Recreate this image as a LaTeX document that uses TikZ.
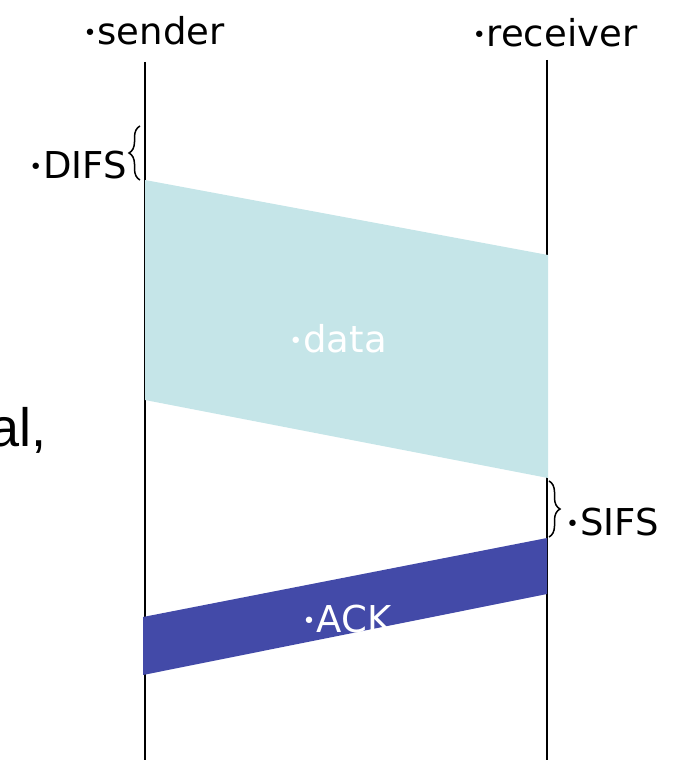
\documentclass[tikz,border=0pt]{standalone}
\usepackage{fontspec}
\setmainfont{DejaVu Sans}
\newfontfamily\arialfont{Liberation Sans}
\usetikzlibrary{decorations.pathreplacing}
\definecolor{datacol}{HTML}{C5E5E8}
\definecolor{ackcol}{HTML}{434AA8}
\newcommand\smallbul{{\fontsize{22}{22}\selectfont\raisebox{4pt}{•}}\kern1pt}
\tikzset{
  lbl/.style={inner sep=0pt, font=\fontsize{37}{40}\selectfont},
  wlbl/.style={lbl, text=white},
  lifeline/.style={line width=1.5pt, black},
  bracestyle/.style={line width=1.5pt, decorate, decoration={brace, amplitude=11pt}}
}
\begin{document}
\begin{tikzpicture}[x=1pt,y=-1pt]
\useasboundingbox (0,0) rectangle (690,760);
% lifelines
\coordinate (sTop) at (145,62);
\coordinate (sBot) at (145,760);
\coordinate (rTop) at (547,60);
\coordinate (rBot) at (547,760);
\draw[lifeline] (sTop) -- (sBot);
\draw[lifeline] (rTop) -- (rBot);
% frames
\fill[datacol] (145,180) -- (548,255) -- (548,478) -- (145,400) -- cycle;
\fill[ackcol] (547,538) -- (547,594) -- (143,675) -- (143,617) -- cycle;
% labels
\node[lbl, anchor=base] (sender) at (154,45) {\smallbul sender};
\node[lbl, anchor=base] (receiver) at (555,47) {\smallbul receiver};
\node[wlbl, anchor=base] (data) at (338,352) {\smallbul data};
\node[wlbl, anchor=base] (ack) at (347,632) {\smallbul ACK};
\node[lbl, anchor=base east] (difs) at (127,178) {\smallbul DIFS};
\node[lbl, anchor=base west] (sifs) at (566,535) {\smallbul SIFS};
\node[inner sep=0pt, anchor=base east, font=\arialfont\fontsize{54}{58}\selectfont] (al) at (47,446) {al,};
% braces
\coordinate (d1) at (140,180);
\coordinate (d2) at (140,126);
\draw[bracestyle] (d1) -- (d2);
\coordinate (s1) at (549,481);
\coordinate (s2) at (549,537);
\draw[bracestyle] (s1) -- (s2);
\end{tikzpicture}
\end{document}
